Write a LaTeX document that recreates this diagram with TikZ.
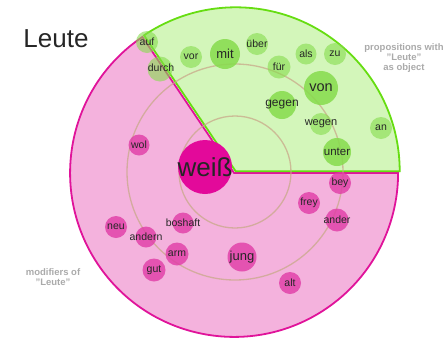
\documentclass[tikz,border=0pt]{standalone}
\usepackage{fontspec}
\setmainfont{Liberation Sans}
\definecolor{gfill}{HTML}{D3F6BA}
\definecolor{gline}{HTML}{66DD11}
\definecolor{pfill}{HTML}{F4B2DD}
\definecolor{pline}{HTML}{E0139A}
\definecolor{gbub}{HTML}{86DC4C}
\definecolor{pbub}{HTML}{E03CA6}
\definecolor{ring}{HTML}{C9A98A}
\definecolor{lab}{HTML}{AAAAAA}
\definecolor{wcol}{HTML}{E3099A}
\begin{document}
\begin{tikzpicture}[x=1pt,y=-1pt,
  gb/.style={circle,fill=gbub,fill opacity=0.6,inner sep=0,minimum size=#1},
  gbd/.style={circle,fill=gbub,fill opacity=0.85,inner sep=0,minimum size=#1},
  pb/.style={circle,fill=pbub,fill opacity=0.8,inner sep=0,minimum size=#1},
  wt/.style={font=\fontsize{10.5}{12}\selectfont,text=black!85,inner sep=0},
  ringline/.style={draw=ring,draw opacity=0.75,line width=1.3pt},
  lbl/.style={font=\bfseries\fontsize{9.5}{10}\selectfont,text=lab,align=center,inner sep=0}]
\useasboundingbox (0,0) rectangle (447,338);
\coordinate (C) at (235,172);
% sectors
\fill[pfill] ([shift={(-0.9,0.9)}]C) -- ++(-124:164) arc[start angle=-124,end angle=-360,radius=164] -- cycle;
\draw[pline,line width=1.8pt] ([shift={(-0.9,0.9)}]C) -- ++(-124:164) arc[start angle=-124,end angle=-360,radius=164] -- cycle;
\fill[gfill] ([shift={(0.7,-0.7)}]C) -- ++(0:164) arc[start angle=0,end angle=-124,radius=164] -- cycle;
\draw[gline,line width=1.8pt] ([shift={(0.7,-0.7)}]C) -- ++(0:164) arc[start angle=0,end angle=-124,radius=164] -- cycle;
% rings
\draw[ringline] (C) circle[radius=56];
\draw[ringline] (C) circle[radius=108];
% green bubbles
\node[gb=22pt] (auf) at (147,42) {};
\node[gb=25pt] (durch) at (160,69) {};
\node[gb=22pt] (vor) at (191,57) {};
\node[gbd=30pt] (mit) at (225,54) {};
\node[gb=22pt] (ueber) at (257,44) {};
\node[gb=23pt] (fuer) at (279,67) {};
\node[gb=21pt] (als) at (306,54) {};
\node[gb=22pt] (zu) at (335,54) {};
\node[gbd=34pt] (von) at (321,88) {};
\node[gbd=28pt] (gegen) at (282,105) {};
\node[gb=22pt] (wegen) at (321,124) {};
\node[gb=22pt] (an) at (381,128) {};
\node[gbd=28pt] (unter) at (337,152) {};
% pink bubbles
\node[circle,fill=wcol,inner sep=0,minimum size=54pt] (weiss) at (205,167) {};
\node[pb=21pt] (wol) at (139,145) {};
\node[pb=22pt] (neu) at (116,227) {};
\node[pb=21pt] (andern) at (146,237) {};
\node[pb=21pt] (boshaft) at (183,223) {};
\node[pb=23pt] (arm) at (177,254) {};
\node[pb=23pt] (gut) at (154,270) {};
\node[pb=22pt] (bey) at (340,183) {};
\node[pb=22pt] (frey) at (309,203) {};
\node[pb=23pt] (ander) at (337,220) {};
\node[pb=29pt] (jung) at (242,257) {};
\node[pb=22pt] (alt) at (290,283) {};
% texts
\node[wt] at (auf) {auf};
\node[wt] at (161,68) {durch};
\node[wt] at (vor) {vor};
\node[wt,font=\fontsize{13}{14}\selectfont] at (mit) {mit};
\node[wt] at (ueber) {über};
\node[wt] at (fuer) {für};
\node[wt] at (als) {als};
\node[wt] at (zu) {zu};
\node[wt,font=\fontsize{14.5}{16}\selectfont] at (von) {von};
\node[wt,font=\fontsize{12}{14}\selectfont] at (gegen) {gegen};
\node[wt,font=\fontsize{11}{13}\selectfont] at (wegen) {wegen};
\node[wt] at (an) {an};
\node[wt,font=\fontsize{11.5}{13}\selectfont] at (unter) {unter};
\node[wt,font=\fontsize{26}{30}\selectfont] at (weiss) {weiß};
\node[wt] at (wol) {wol};
\node[wt] at (neu) {neu};
\node[wt] at (andern) {andern};
\node[wt] at (boshaft) {boshaft};
\node[wt] at (arm) {arm};
\node[wt] at (gut) {gut};
\node[wt] at (bey) {bey};
\node[wt] at (frey) {frey};
\node[wt] at (ander) {ander};
\node[wt,font=\fontsize{13}{15}\selectfont] at (jung) {jung};
\node[wt] at (alt) {alt};
% labels
\node[font=\fontsize{26}{30}\selectfont,text=black!85,inner sep=0] (title) at (56,39) {Leute};
\node[lbl] (lprop) at (404,58) {propositions with\\"Leute"\\as object};
\node[lbl] (lmod) at (53,277) {modifiers of\\"Leute"};
\end{tikzpicture}
\end{document}
